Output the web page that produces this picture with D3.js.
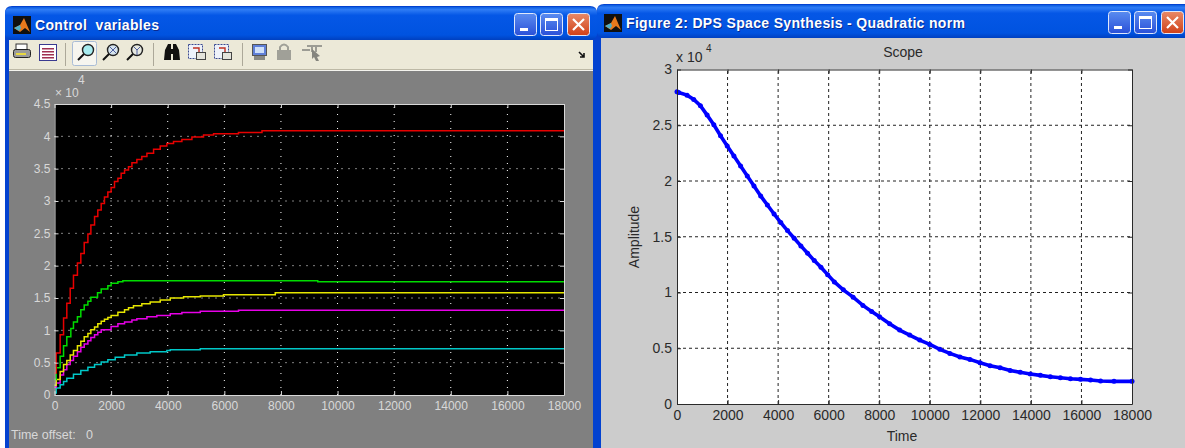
<!DOCTYPE html>
<html>
<head>
<meta charset="utf-8">
<script src="https://cdn.jsdelivr.net/npm/d3@7"></script>
<style>
  html, body { margin: 0; padding: 0; background: #fff; overflow: hidden; }
  text { font-family: "Liberation Sans", sans-serif; }
</style>
</head>
<body>
<div id="plot"></div>
<script>
// Left scope (Control variables), amplitudes in units of 10^4
const redTime = [0,60,200,320,435,555,670,810,930,1050,1180,1285,1415,1530,1650,1765,1885,2000,2120,2240,2355,2475,2615,2735,2910,3085,3265,3500,3735,3970,4205,4500,4855,5265,5620,6500,7330,18000]
const redValue = [0.34,0.65,0.93,1.19,1.42,1.65,1.85,2.04,2.19,2.36,2.49,2.63,2.76,2.86,2.96,3.06,3.14,3.21,3.30,3.35,3.43,3.48,3.53,3.59,3.64,3.69,3.74,3.80,3.85,3.89,3.92,3.95,3.99,4.02,4.04,4.06,4.085,4.085]
const greenTime = [0,60,200,320,435,577,670,810,930,1050,1180,1285,1520,1650,1885,2000,2240,2415,9300,18000]
const greenValue = [0.24,0.42,0.60,0.76,0.90,1.03,1.13,1.21,1.32,1.39,1.45,1.51,1.58,1.64,1.69,1.73,1.75,1.765,1.75,1.75]
const yellowTime = [0,60,200,320,435,555,670,810,930,1050,1180,1285,1415,1530,1650,1765,1885,2000,2240,2475,2615,2790,3085,3380,3735,4090,4560,5150,5970,7800,18000]
const yellowValue = [0.15,0.24,0.365,0.47,0.535,0.617,0.69,0.76,0.83,0.90,0.95,1.01,1.05,1.10,1.14,1.17,1.20,1.23,1.28,1.32,1.35,1.38,1.41,1.44,1.47,1.50,1.52,1.53,1.55,1.58,1.58]
const magentaTime = [0,60,200,320,435,555,670,810,930,1050,1180,1285,1415,1530,1650,2000,2240,2475,2735,2910,3265,3615,4090,4500,5150,6500,18000]
const magentaValue = [0.12,0.185,0.31,0.39,0.47,0.535,0.60,0.67,0.74,0.79,0.84,0.89,0.93,0.97,1.01,1.06,1.10,1.13,1.16,1.18,1.21,1.23,1.255,1.275,1.295,1.31,1.31]
const cyanTime = [0,60,200,320,435,670,930,1180,1415,1650,1885,2145,2475,2910,3380,3970,4090,5150,18000]
const cyanValue = [0.03,0.11,0.16,0.21,0.26,0.32,0.38,0.43,0.47,0.51,0.545,0.585,0.62,0.65,0.67,0.69,0.70,0.715,0.715]

// Right scope (Quadratic norm)
const normTime = [0,66,397,662,927,1192,1457,1722,1987,2252,2517,2781,3046,3311,3576,3841,4106,4371,4636,4901,5166,5430,5695,5960,6225,6580,6968,7355,7700,8013,8410,8808,9205,9603,10000,10398,10795,11193,11590,11988,12385,12783,13180,13578,13975,14373,14770,15168,15565,15963,16360,16758,17288,18000]
const normValue = [2.80,2.794,2.77,2.731,2.675,2.591,2.504,2.406,2.313,2.224,2.134,2.045,1.955,1.866,1.785,1.704,1.627,1.555,1.487,1.418,1.352,1.286,1.227,1.16,1.095,1.024,0.958,0.884,0.83,0.783,0.72,0.663,0.618,0.573,0.534,0.49,0.454,0.421,0.40,0.37,0.343,0.325,0.30,0.284,0.269,0.257,0.245,0.236,0.227,0.221,0.215,0.206,0.203,0.203]

const timeTicks = [0,2000,4000,6000,8000,10000,12000,14000,16000,18000]
const leftAmpTicks = [0,0.5,1,1.5,2,2.5,3,3.5,4,4.5]
const rightAmpTicks = [0,0.5,1,1.5,2,2.5,3]

const svg = d3.select('#plot').append('svg')
  .attr('width', 1185).attr('height', 448)
  .style('display', 'block')

const defs = svg.append('defs')
const addGradient = function(id, stops) {
  const g = defs.append('linearGradient').attr('id', id)
    .attr('x1', 0).attr('y1', 0).attr('x2', 0).attr('y2', 1)
  stops.forEach(s => g.append('stop').attr('offset', s[0]).attr('stop-color', s[1]))
}
addGradient('titleGrad', [[0,'#0a5ce0'],[0.08,'#2f7cf5'],[0.25,'#0557e6'],[0.85,'#0053e0'],[1,'#0040c0']])
addGradient('blueBtn', [[0,'#5a8cf0'],[1,'#2a50d8']])
addGradient('redBtn', [[0,'#e88a68'],[1,'#d04018']])

// ---- window frames
const drawWindow = function(x, y, w, h, titleX, title, titleW, client) {
  const g = svg.append('g')
  g.append('path')
    .attr('d', `M${x},${y+h} V${y+7} Q${x},${y} ${x+7},${y} H${x+w-7} Q${x+w},${y} ${x+w},${y+7} V${y+h} Z`)
    .attr('fill', '#0342d0')
  g.append('rect').attr('x', x).attr('y', y+1).attr('width', w).attr('height', 33)
    .attr('fill', 'url(#titleGrad)')
    .attr('rx', 6)
  g.append('rect').attr('x', x+4).attr('y', y+34).attr('width', w-8).attr('height', h-34)
    .attr('fill', client)

  // matlab icon
  const ix = titleX - 22, iy = y + 10
  g.append('rect').attr('x', ix).attr('y', iy).attr('width', 18).attr('height', 18).attr('fill', '#101010')
  g.append('path').attr('d', `M${ix+1},${iy+12} L${ix+7},${iy+9} L${ix+11},${iy+2} L${ix+17},${iy+16} L${ix+12},${iy+12} L${ix+7},${iy+16} Z`)
    .attr('fill', '#e8791c')
  g.append('path').attr('d', `M${ix+1},${iy+12} L${ix+7},${iy+9} L${ix+8},${iy+12} L${ix+6},${iy+15} Z`)
    .attr('fill', '#4fb0c8')

  g.append('text').attr('x', titleX+1).attr('y', y+25)
    .attr('fill', '#0a2a90').attr('font-size', 14).attr('font-weight', 'bold')
    .attr('textLength', titleW).attr('xml:space', 'preserve').text(title)
  g.append('text').attr('x', titleX).attr('y', y+24)
    .attr('fill', '#fff').attr('font-size', 14).attr('font-weight', 'bold')
    .attr('textLength', titleW).attr('xml:space', 'preserve').text(title)

  // caption buttons
  const bx = x + w - 83, by = y + 7
  const btn = (dx, fill) => g.append('rect').attr('x', bx+dx+0.5).attr('y', by+0.5).attr('width', 22).attr('height', 22)
    .attr('rx', 3).attr('fill', fill).attr('stroke', '#dfe8fb')
  btn(0, 'url(#blueBtn)'); btn(26, 'url(#blueBtn)'); btn(53, 'url(#redBtn)')
  g.append('rect').attr('x', bx+6).attr('y', by+15).attr('width', 8).attr('height', 3).attr('fill', '#fff')
  g.append('rect').attr('x', bx+31.5).attr('y', by+5.5).attr('width', 12).attr('height', 12)
    .attr('fill', 'none').attr('stroke', '#fff')
  g.append('rect').attr('x', bx+31).attr('y', by+5).attr('width', 13).attr('height', 3).attr('fill', '#fff')
  g.append('path').attr('d', `M${bx+59},${by+6} L${bx+70},${by+17} M${bx+70},${by+6} L${bx+59},${by+17}`)
    .attr('stroke', '#fff').attr('stroke-width', 2.2)
}

drawWindow(5, 6, 592, 442, 35, 'Control  variables', 124, '#808080')

// ---- toolbar of the left window
const toolbar = svg.append('g')
toolbar.append('rect').attr('x', 9).attr('y', 40).attr('width', 584).attr('height', 29).attr('fill', '#ece9d8')
toolbar.append('rect').attr('x', 9).attr('y', 69).attr('width', 584).attr('height', 1).attr('fill', '#bdb9a6')
toolbar.append('rect').attr('x', 9).attr('y', 70).attr('width', 584).attr('height', 1).attr('fill', '#f4f3ee')
;[65, 153, 242].forEach(x => toolbar.append('rect').attr('x', x).attr('y', 43).attr('width', 1).attr('height', 23).attr('fill', '#aca899'))

// pressed zoom button
toolbar.append('rect').attr('x', 72.5).attr('y', 41.5).attr('width', 24).attr('height', 24).attr('rx', 2)
  .attr('fill', '#f6f5ef').attr('stroke', '#a9bcd6')

// printer
toolbar.append('rect').attr('x', 16).attr('y', 44).attr('width', 11).attr('height', 6).attr('fill', '#fff').attr('stroke', '#333')
toolbar.append('rect').attr('x', 13.5).attr('y', 49.5).attr('width', 17).attr('height', 8).attr('rx', 2).attr('fill', '#9a9a9a').attr('stroke', '#222')
toolbar.append('rect').attr('x', 16).attr('y', 53).attr('width', 10).attr('height', 2).attr('fill', '#e8d840')
// clipboard
toolbar.append('rect').attr('x', 39.5).attr('y', 44.5).attr('width', 17).attr('height', 16).attr('fill', '#fff').attr('stroke', '#3a3a90')
;[48, 51, 54, 57].forEach(y => toolbar.append('rect').attr('x', 42).attr('y', y).attr('width', 12).attr('height', 1.5).attr('fill', '#a03050'))

const lens = function(cx, fill) {
  toolbar.append('circle').attr('cx', cx).attr('cy', 50).attr('r', 5.5).attr('fill', fill).attr('stroke', '#222').attr('stroke-width', 1.4)
  toolbar.append('line').attr('x1', cx-4).attr('y1', 54).attr('x2', cx-10).attr('y2', 60).attr('stroke', '#111').attr('stroke-width', 2)
}
lens(88, '#a8ecf0')
lens(113, '#d6e4ee')
lens(137, '#e6e8e0')
toolbar.append('path').attr('d', 'M110,47 L116,53 M116,47 L110,53').attr('stroke', '#5060a0')
toolbar.append('path').attr('d', 'M134,47 L137,50 L140,47 M137,50 V55').attr('stroke', '#5060a0').attr('fill', 'none')

// binoculars
toolbar.append('path').attr('d', 'M164,60 L165,50 L168,44 H171 V60 Z M173,60 V44 H176 L179,50 L180,60 Z M170,49 H174 V54 H170 Z').attr('fill', '#111')
// axes save/restore
;[188, 214].forEach(x => {
  toolbar.append('rect').attr('x', x+0.5).attr('y', 44.5).attr('width', 14).attr('height', 14).attr('fill', '#eef2fa').attr('stroke', '#3a4a90').attr('stroke-dasharray', '2,1')
  toolbar.append('rect').attr('x', x+8.5).attr('y', 52.5).attr('width', 9).attr('height', 7).attr('fill', '#e4e4dc').attr('stroke', '#444')
  toolbar.append('path').attr('d', `M${x+5},48 H${x+11} V52`).attr('fill', 'none').attr('stroke', '#c03020').attr('stroke-width', 1.4)
})
// chip
toolbar.append('rect').attr('x', 252.5).attr('y', 44.5).attr('width', 14).attr('height', 11).attr('fill', '#6080d8').attr('stroke', '#555')
toolbar.append('rect').attr('x', 255).attr('y', 47).attr('width', 9).attr('height', 6).attr('fill', '#cfe0fa')
toolbar.append('rect').attr('x', 254).attr('y', 56).attr('width', 11).attr('height', 4).attr('fill', '#8a8a84')
// lock
toolbar.append('rect').attr('x', 277).attr('y', 50).attr('width', 14).attr('height', 10).attr('fill', '#a0a098')
toolbar.append('path').attr('d', 'M280,50 V47 Q284,42 288,47 V50').attr('fill', 'none').attr('stroke', '#a0a098').attr('stroke-width', 2)
// cursor icon
toolbar.append('path').attr('d', 'M302,50 H310 M307,46 H322 M312,46 V52 M316,46 V52').attr('stroke', '#9c9c94').attr('stroke-width', 2).attr('fill', 'none')
toolbar.append('path').attr('d', 'M312,49 L320,56 L317,57 L319,61 L316,61 L314,57 L312,59 Z').attr('fill', '#85857e')
// overflow arrow
toolbar.append('path').attr('d', 'M579,52 L584,57 M584,53 V57 H580').attr('stroke', '#111').attr('stroke-width', 1.6).attr('fill', 'none')

// ---- left scope
const xL = d3.scaleLinear().domain([0, 18000]).range([54.5, 564])
const yL = d3.scaleLinear().domain([0, 4.5]).range([395, 104])

const scope = svg.append('g')
scope.append('rect').attr('x', xL(0)).attr('y', yL(4.5)).attr('width', xL(18000)-xL(0)).attr('height', yL(0)-yL(4.5)).attr('fill', '#000')

// grid
scope.append('g').selectAll('line').data(timeTicks.slice(1, -1)).enter().append('line')
  .attr('x1', d => xL(d)).attr('x2', d => xL(d)).attr('y1', yL(0)).attr('y2', yL(4.5))
  .attr('stroke', '#fff').attr('stroke-dasharray', '1,6')
scope.append('g').selectAll('line').data(leftAmpTicks.slice(1, -1)).enter().append('line')
  .attr('x1', xL(0)).attr('x2', xL(18000)).attr('y1', d => yL(d)).attr('y2', d => yL(d))
  .attr('stroke', '#fff').attr('stroke-dasharray', '1,6')

const stepLine = d3.line().curve(d3.curveStepAfter).x(d => xL(d[0])).y(d => yL(d[1]))
const leftSeries = [
  [cyanTime, cyanValue, '#00c8c8'],
  [magentaTime, magentaValue, '#e800e8'],
  [yellowTime, yellowValue, '#e6e600'],
  [greenTime, greenValue, '#00dc00'],
  [redTime, redValue, '#e80000']
]
scope.append('g').selectAll('path').data(leftSeries).enter().append('path')
  .attr('fill', 'none')
  .attr('stroke', d => d[2])
  .attr('stroke-width', 1.5)
  .attr('d', d => stepLine(d3.zip(d[0], d[1])))

const styleAxis = function(g, color, size) {
  g.selectAll('.domain').attr('stroke', color)
  g.selectAll('.tick line').attr('stroke', color)
  g.selectAll('.tick text').attr('fill', color).attr('font-size', size)
    .style('font-family', '"Liberation Sans", sans-serif')
}

const leftLabel = '#d8d8d8'
scope.append('g').attr('transform', `translate(0,${yL(0)})`)
  .call(d3.axisBottom(xL).tickValues(timeTicks).tickSizeInner(-4).tickSizeOuter(0).tickPadding(6).tickFormat(d => d))
  .call(g => styleAxis(g, leftLabel, 12))
scope.append('g').attr('transform', `translate(${xL(0)},0)`)
  .call(d3.axisLeft(yL).tickValues(leftAmpTicks).tickSizeInner(-4).tickSizeOuter(0).tickPadding(4).tickFormat(d => d))
  .call(g => styleAxis(g, leftLabel, 12))
scope.append('g').attr('transform', `translate(0,${yL(4.5)})`)
  .call(d3.axisTop(xL).tickValues(timeTicks).tickSizeInner(-4).tickSizeOuter(0).tickFormat(''))
  .call(g => styleAxis(g, leftLabel, 12))
scope.append('g').attr('transform', `translate(${xL(18000)},0)`)
  .call(d3.axisRight(yL).tickValues(leftAmpTicks).tickSizeInner(-4).tickSizeOuter(0).tickFormat(''))
  .call(g => styleAxis(g, leftLabel, 12))

scope.append('text').attr('x', 55).attr('y', 97).attr('fill', leftLabel).attr('font-size', 12).text('\u00d7 10')
scope.append('text').attr('x', 78).attr('y', 84).attr('fill', leftLabel).attr('font-size', 12).text('4')
scope.append('text').attr('x', 11).attr('y', 439).attr('fill', leftLabel).attr('font-size', 12.5)
  .attr('xml:space', 'preserve').text('Time offset:   0')

// ---- right figure window
drawWindow(597, 4, 594, 444, 626, 'Figure 2: DPS Space Synthesis - Quadratic norm', 339, '#cccccc')

const xR = d3.scaleLinear().domain([0, 18000]).range([677, 1132])
const yR = d3.scaleLinear().domain([0, 3]).range([404, 69.5])

const fig = svg.append('g')
fig.append('rect').attr('x', xR(0)).attr('y', yR(3)).attr('width', xR(18000)-xR(0)).attr('height', yR(0)-yR(3)).attr('fill', '#fff')

fig.append('g').selectAll('line').data(timeTicks.slice(1, -1)).enter().append('line')
  .attr('x1', d => xR(d)).attr('x2', d => xR(d)).attr('y1', yR(0)).attr('y2', yR(3))
  .attr('stroke', '#222').attr('stroke-dasharray', '3,3')
fig.append('g').selectAll('line').data(rightAmpTicks.slice(1, -1)).enter().append('line')
  .attr('x1', xR(0)).attr('x2', xR(18000)).attr('y1', d => yR(d)).attr('y2', d => yR(d))
  .attr('stroke', '#222').attr('stroke-dasharray', '3,3')

const normData = d3.zip(normTime, normValue)
fig.append('path').datum(normData)
  .attr('fill', 'none').attr('stroke', '#0000ff').attr('stroke-width', 3.6)
  .attr('d', d3.line().x(d => xR(d[0])).y(d => yR(d[1])))
fig.append('g').selectAll('circle').data(normData).enter().append('circle')
  .attr('cx', d => xR(d[0])).attr('cy', d => yR(d[1])).attr('r', 2.5).attr('fill', '#0000ff')

const rightLabel = '#2a2a2a'
fig.append('g').attr('transform', `translate(0,${yR(0)})`)
  .call(d3.axisBottom(xR).tickValues(timeTicks).tickSizeInner(-4).tickSizeOuter(0).tickPadding(6).tickFormat(d => d))
  .call(g => styleAxis(g, rightLabel, 14))
fig.append('g').attr('transform', `translate(${xR(0)},0)`)
  .call(d3.axisLeft(yR).tickValues(rightAmpTicks).tickSizeInner(-4).tickSizeOuter(0).tickPadding(5).tickFormat(d => d))
  .call(g => styleAxis(g, rightLabel, 14))
fig.append('g').attr('transform', `translate(0,${yR(3)})`)
  .call(d3.axisTop(xR).tickValues(timeTicks).tickSizeInner(-4).tickSizeOuter(0).tickFormat(''))
  .call(g => styleAxis(g, rightLabel, 14))
fig.append('g').attr('transform', `translate(${xR(18000)},0)`)
  .call(d3.axisRight(yR).tickValues(rightAmpTicks).tickSizeInner(-4).tickSizeOuter(0).tickFormat(''))
  .call(g => styleAxis(g, rightLabel, 14))

fig.append('text').attr('x', 676).attr('y', 62).attr('fill', rightLabel).attr('font-size', 14).text('x 10')
fig.append('text').attr('x', 706).attr('y', 52).attr('fill', rightLabel).attr('font-size', 10).text('4')
fig.append('text').attr('x', 903).attr('y', 57).attr('fill', rightLabel).attr('font-size', 14).attr('text-anchor', 'middle').text('Scope')
fig.append('text').attr('x', 902).attr('y', 441).attr('fill', rightLabel).attr('font-size', 14).attr('text-anchor', 'middle').text('Time')
fig.append('text').attr('transform', 'translate(639,237) rotate(-90)').attr('fill', rightLabel).attr('font-size', 14).attr('text-anchor', 'middle').text('Amplitude')
</script>
</body>
</html>
